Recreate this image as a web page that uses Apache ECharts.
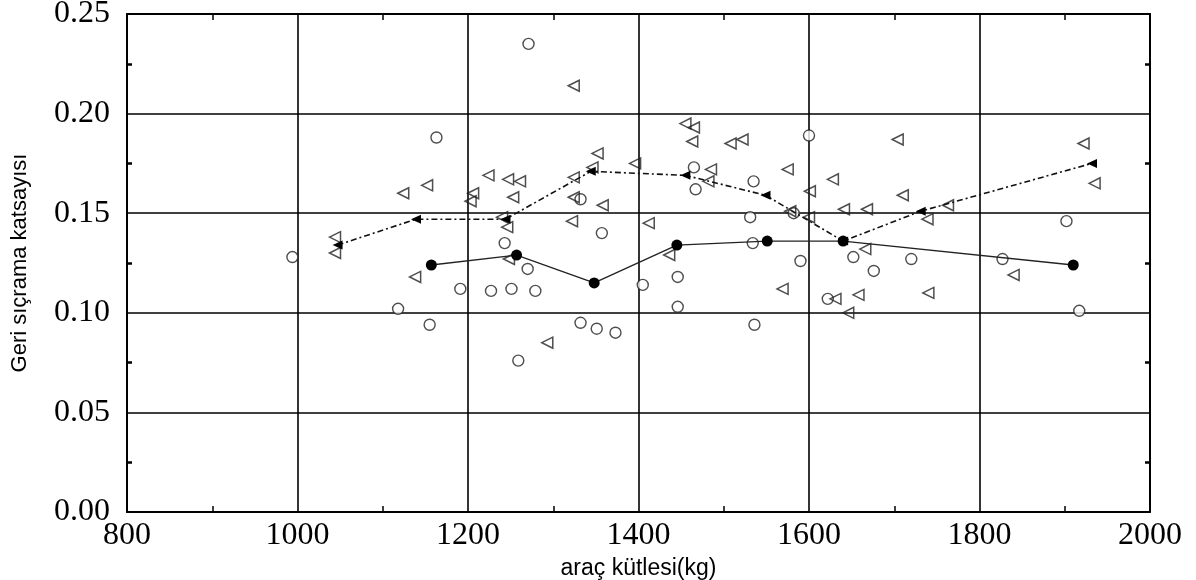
<!DOCTYPE html>
<html>
<head>
<meta charset="utf-8">
<script src="https://cdn.jsdelivr.net/npm/echarts@6/dist/echarts.min.js"></script>
<style>
html,body{margin:0;padding:0;background:#fff;}
#chart{width:1196px;height:580px;}
</style>
</head>
<body>
<div id="chart"></div>
<script>
// Open circles (raw data, group 1)
const circleX = [994,1118,1155,1163,1191,1227,1243,1251,1259,1270,1279,1271,1332,1351,1373,1357,1332,1405,1446,1446,1465,1467,1535,1531,1534,1536,1582,1590,1600,1622,1652,1676,1720,1827,1902,1917];
const circleY = [0.128,0.102,0.094,0.188,0.112,0.111,0.135,0.112,0.076,0.122,0.111,0.235,0.095,0.092,0.090,0.140,0.157,0.114,0.118,0.103,0.173,0.162,0.166,0.148,0.135,0.094,0.150,0.126,0.189,0.107,0.128,0.121,0.127,0.127,0.146,0.101];
// Open left triangles (raw data, group 2)
const triX = [1044,1044,1124,1152,1138,1206,1203,1224,1247,1261,1253,1240,1246,1248,1293,1324,1324,1346,1352,1324,1358,1322,1396,1412,1436,1455,1465,1463,1508,1522,1485,1482,1575,1628,1601,1704,1710,1578,1600,1641,1668,1739,1763,1569,1631,1658,1646,1740,1666,1840,1922,1935];
const triY = [0.138,0.130,0.160,0.164,0.118,0.160,0.156,0.169,0.167,0.166,0.158,0.148,0.143,0.127,0.085,0.214,0.168,0.173,0.180,0.158,0.154,0.146,0.175,0.145,0.129,0.195,0.193,0.186,0.185,0.187,0.172,0.166,0.172,0.167,0.161,0.187,0.159,0.151,0.148,0.152,0.152,0.147,0.154,0.112,0.107,0.109,0.100,0.110,0.132,0.119,0.185,0.165];
// Mean lines
const meanCircleX = [1157,1257,1348,1445,1551,1640,1910];
const meanCircleY = [0.124,0.129,0.115,0.134,0.136,0.136,0.124];
const meanTriX = [1047,1139,1244,1344,1455,1549,1640,1731,1932];
const meanTriY = [0.134,0.147,0.147,0.171,0.169,0.159,0.136,0.151,0.175];
// Axes
const xTicks = [800,1000,1200,1400,1600,1800,2000];
const yTicks = [0.00,0.05,0.10,0.15,0.20,0.25];
const xName = 'araç kütlesi(kg)';
const yName = 'Geri sıçrama katsayısı';

const zip = (a,b) => a.map((v,i)=>[v,b[i]]);
const serif = "'Liberation Serif','Times New Roman',serif";
const sans = "'Liberation Sans Narrow','Liberation Sans',Arial,sans-serif";

const baseX = {
  type:'value', min:xTicks[0], max:xTicks[xTicks.length-1], interval:200,
  axisLine:{show:true,onZero:false,lineStyle:{color:'#000',width:2}},
  axisTick:{show:true,inside:true,length:0,lineStyle:{color:'#000'}},
  minorTick:{show:true,splitNumber:2,length:6,lineStyle:{color:'#000',width:1.5}},
};
const baseY = {
  type:'value', min:yTicks[0], max:yTicks[yTicks.length-1], interval:0.05,
  axisLine:{show:true,onZero:false,lineStyle:{color:'#000',width:2}},
  axisTick:{show:true,inside:true,length:0,lineStyle:{color:'#000'}},
  minorTick:{show:true,splitNumber:2,length:5,lineStyle:{color:'#000',width:2.5}},
};

const chart = echarts.init(document.getElementById('chart'), null, {renderer:'canvas'});
chart.setOption({
  animation:false,
  backgroundColor:'#fff',
  grid:{left:127,right:46,top:14,bottom:68,containLabel:false,outerBoundsMode:'none'},
  xAxis:[
    Object.assign({}, baseX, {
      position:'bottom',
      name:xName, nameLocation:'middle', nameGap:42,
      nameTextStyle:{fontFamily:sans,fontSize:23,color:'#000'},
      axisLabel:{show:true,margin:8,fontFamily:serif,fontSize:32,color:'#000',
        formatter:v=>String(v)},
      splitLine:{show:true,lineStyle:{color:'#000',width:1.6}}
    }),
    Object.assign({}, baseX, {
      position:'top',
      axisLabel:{show:false}, splitLine:{show:false}
    })
  ],
  yAxis:[
    Object.assign({}, baseY, {
      position:'left',
      name:yName, nameLocation:'middle', nameGap:96, nameRotate:90,
      nameTextStyle:{fontFamily:sans,fontSize:22,color:'#000'},
      axisLabel:{show:true,margin:17,fontFamily:serif,fontSize:32,color:'#000',
        formatter:v=>v.toFixed(2)},
      splitLine:{show:true,lineStyle:{color:'#000',width:1.6}}
    }),
    Object.assign({}, baseY, {
      position:'right',
      axisLabel:{show:false}, splitLine:{show:false}
    })
  ],
  series:[
    {
      type:'scatter', data:zip(circleX,circleY),
      symbol:'circle', symbolSize:11,
      itemStyle:{color:'#fff',borderColor:'#222',borderWidth:1.4},
      z:3
    },
    {
      type:'scatter', data:zip(triX,triY),
      symbol:'triangle', symbolSize:[11,11], symbolRotate:90,
      itemStyle:{color:'rgba(255,255,255,0)',borderColor:'#222',borderWidth:1.5},
      z:3
    },
    {
      type:'line', data:zip(meanCircleX,meanCircleY),
      symbol:'circle', symbolSize:11, showSymbol:true,
      itemStyle:{color:'#000'},
      lineStyle:{color:'#222',width:1.3},
      z:5
    },
    {
      type:'line', data:zip(meanTriX,meanTriY),
      symbol:'triangle', symbolSize:[9,10], symbolRotate:90, showSymbol:true,
      itemStyle:{color:'#000'},
      lineStyle:{color:'#111',width:1.6,type:[6,3,2,3]},
      z:5
    }
  ]
});
</script>
</body>
</html>
